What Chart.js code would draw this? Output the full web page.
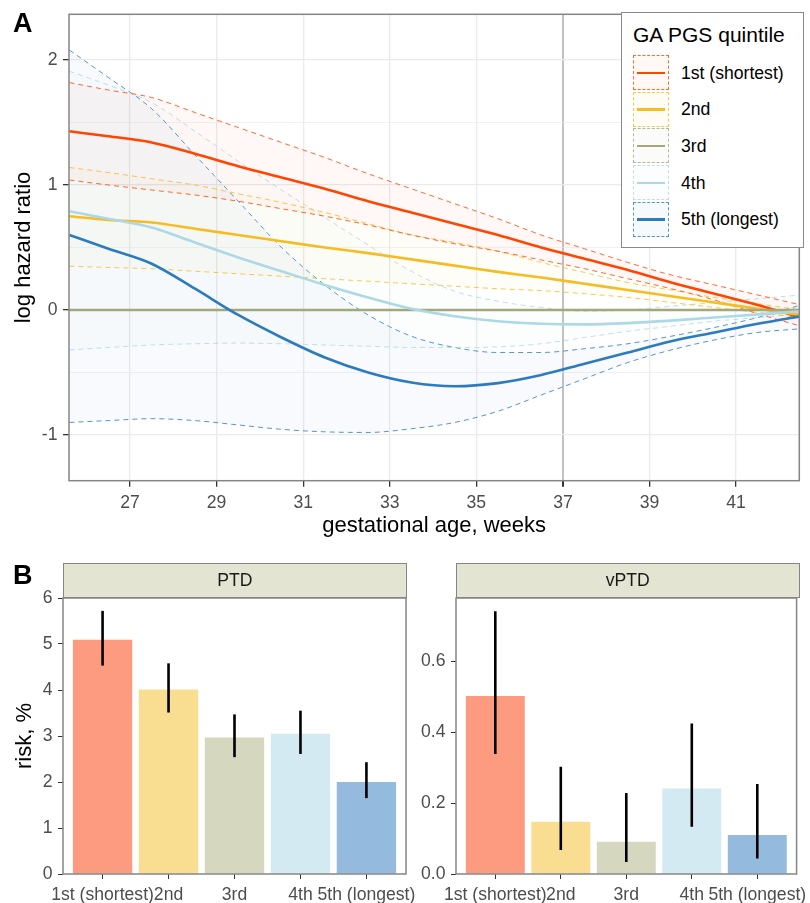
<!DOCTYPE html>
<html>
<head>
<meta charset="utf-8">
<script src="https://cdn.jsdelivr.net/npm/chart.js@4.4.1/dist/chart.umd.min.js"></script>
<style>
  html, body { margin: 0; padding: 0; background: #fff; overflow: hidden; }
  #page { position: relative; width: 810px; height: 903px; overflow: hidden; font-family: "Liberation Sans", Arial, sans-serif; }
  .box { position: absolute; }
  .tag { position: absolute; font-weight: bold; font-size: 27px; line-height: 27px; color: #000; }
  .strip { position: absolute; background: #E4E4D2; border: 1.5px solid #858585; box-sizing: border-box;
           text-align: center; font-size: 17.6px; line-height: 32px; color: #1a1a1a; }
  #legend { position: absolute; left: 621px; top: 12px; width: 183px; height: 236px; background: #fff;
            border: 1px solid #8a8a8a; box-sizing: border-box; }
  .ltitle { position: absolute; left: 633px; top: 22px; font-size: 21px; line-height: 26px; color: #000; }
  .lkey { position: absolute; left: 633px; width: 36px; height: 35px; box-sizing: border-box; border: 1px dashed; }
  .lkey i { position: absolute; left: 3px; right: 3px; top: 15.5px; height: 2.6px; }
  .llab { position: absolute; left: 681px; font-size: 17.6px; line-height: 22px; color: #000; }
</style>
</head>
<body>
<div id="page">
  <div class="box" style="left:0;top:0;width:810px;height:545px"><canvas id="hr" width="810" height="545"></canvas></div>
  <div class="box" style="left:0;top:580px;width:430px;height:323px"><canvas id="ptd" width="430" height="323"></canvas></div>
  <div class="box" style="left:410px;top:580px;width:405px;height:323px"><canvas id="vptd" width="405" height="323"></canvas></div>
  <div class="tag" style="left:13px;top:10px">A</div>
  <div class="tag" style="left:13px;top:562px">B</div>
  <div class="strip" style="left:63px;top:563px;width:343.5px;height:35px">PTD</div>
  <div class="strip" style="left:456px;top:563px;width:343.5px;height:35px">vPTD</div>
  <div id="legend"></div>
  <div class="ltitle">GA PGS quintile</div>
  <div id="lkeys"></div>
</div>
<script>
// panel A: log hazard ratio by gestational week
var weeks = [25.6, 26.5, 27.5, 28.5, 29.5, 30.5, 31.5, 32.5, 33.5, 34.5, 35.5, 36.5, 37.5, 38.5, 39.5, 40.5, 41.5, 42.5];
var quintiles = ['1st (shortest)', '2nd', '3rd', '4th', '5th (longest)'];
var lineColors = ['#FF4500', '#F5BD22', '#A3A77A', '#ADD8E6', '#2C7BBF'];
var barColors = ['#FC9B7F', '#F9DE92', '#D5D7BF', '#D4EAF3', '#94BBDD'];

var q1Fit = [1.43, 1.39, 1.34, 1.25, 1.15, 1.06, 0.97, 0.87, 0.78, 0.69, 0.60, 0.50, 0.41, 0.32, 0.22, 0.13, 0.04, -0.06];
var q1Hi  = [1.82, 1.76, 1.70, 1.58, 1.46, 1.34, 1.22, 1.09, 0.97, 0.85, 0.73, 0.60, 0.49, 0.38, 0.28, 0.20, 0.12, 0.04];
var q1Lo  = [1.04, 1.00, 0.96, 0.92, 0.87, 0.81, 0.75, 0.68, 0.60, 0.53, 0.47, 0.40, 0.33, 0.25, 0.17, 0.08, -0.03, -0.13];

var q2Fit = [0.75, 0.72, 0.70, 0.65, 0.60, 0.55, 0.50, 0.455, 0.405, 0.355, 0.305, 0.26, 0.21, 0.16, 0.11, 0.06, 0.01, -0.04];
var q2Hi  = [1.14, 1.10, 1.05, 1.00, 0.93, 0.86, 0.78, 0.69, 0.60, 0.54, 0.47, 0.38, 0.30, 0.22, 0.16, 0.10, 0.05, 0.00];
var q2Lo  = [0.35, 0.34, 0.33, 0.31, 0.29, 0.27, 0.25, 0.23, 0.21, 0.19, 0.17, 0.155, 0.13, 0.10, 0.06, 0.02, -0.02, -0.06];

var q3Fit = [0, 0, 0, 0, 0, 0, 0, 0, 0, 0, 0, 0, 0, 0, 0, 0, 0, 0];

var q4Fit = [0.79, 0.73, 0.66, 0.54, 0.42, 0.31, 0.20, 0.10, 0.01, -0.05, -0.09, -0.11, -0.115, -0.105, -0.085, -0.06, -0.035, -0.01];
var q4Hi  = [1.91, 1.80, 1.66, 1.43, 1.19, 0.96, 0.74, 0.52, 0.31, 0.15, 0.07, 0.02, -0.01, 0.00, 0.03, 0.06, 0.09, 0.12];
var q4Lo  = [-0.32, -0.30, -0.28, -0.27, -0.265, -0.27, -0.28, -0.29, -0.30, -0.30, -0.295, -0.27, -0.22, -0.17, -0.13, -0.09, -0.06, -0.03];

var q5Fit = [0.60, 0.49, 0.37, 0.17, -0.04, -0.22, -0.38, -0.50, -0.58, -0.61, -0.585, -0.52, -0.43, -0.34, -0.25, -0.18, -0.11, -0.05];
var q5Hi  = [2.08, 1.86, 1.61, 1.24, 0.87, 0.50, 0.20, -0.04, -0.21, -0.30, -0.34, -0.34, -0.31, -0.27, -0.21, -0.14, -0.06, 0.04];
var q5Lo  = [-0.90, -0.885, -0.87, -0.885, -0.92, -0.955, -0.975, -0.98, -0.95, -0.90, -0.81, -0.68, -0.55, -0.42, -0.32, -0.24, -0.18, -0.15];

var xTicks = [27, 29, 31, 33, 35, 37, 39, 41];
var yTicks = [-1, -0.5, 0, 0.5, 1, 1.5, 2];

// panel B: risk, % with 95% CI
var ptdRisk = [5.09, 4.01, 2.97, 3.05, 2.00];
var ptdLo   = [4.53, 3.51, 2.54, 2.61, 1.65];
var ptdHi   = [5.72, 4.58, 3.47, 3.55, 2.43];
var vptdRisk = [0.502, 0.147, 0.091, 0.241, 0.110];
var vptdLo   = [0.338, 0.068, 0.034, 0.133, 0.044];
var vptdHi   = [0.741, 0.302, 0.228, 0.424, 0.254];
var ptdTicks = [0, 1, 2, 3, 4, 5, 6];
var vptdTicks = [0, 0.2, 0.4, 0.6];

Chart.defaults.font.family = '"Liberation Sans", Arial, sans-serif';
Chart.defaults.animation = false;

var panelBorder = {
    id: 'panelBorder',
    afterDraw: function (chart) {
        var ctx = chart.ctx, a = chart.chartArea;
        ctx.save();
        ctx.strokeStyle = '#858585';
        ctx.lineWidth = 1.5;
        ctx.strokeRect(a.left, a.top, a.right - a.left, a.bottom - a.top);
        ctx.restore();
    }
};

function pts(arr) {
    return arr.map(function (y, i) { return { x: weeks[i], y: y }; });
}

function fade(hex, a) {
    var n = parseInt(hex.slice(1), 16);
    return 'rgba(' + (n >> 16) + ',' + ((n >> 8) & 255) + ',' + (n & 255) + ',' + a + ')';
}

var groups = [
    { fit: q1Fit, lo: q1Lo, hi: q1Hi },
    { fit: q2Fit, lo: q2Lo, hi: q2Hi },
    { fit: q3Fit },
    { fit: q4Fit, lo: q4Lo, hi: q4Hi },
    { fit: q5Fit, lo: q5Lo, hi: q5Hi }
];

var hrSets = [];
groups.forEach(function (g, k) {
    var c = lineColors[k];
    if (g.hi) {
        hrSets.push({ data: pts(g.hi), borderColor: fade(c, 0.8), borderWidth: 1, borderDash: [5, 4],
            fill: '+1', backgroundColor: fade(c, 0.035), pointRadius: 0, cubicInterpolationMode: 'monotone', order: 10 });
        hrSets.push({ data: pts(g.lo), borderColor: fade(c, 0.8), borderWidth: 1, borderDash: [5, 4],
            fill: false, pointRadius: 0, cubicInterpolationMode: 'monotone', order: 10 });
    }
    hrSets.push({ data: pts(g.fit), borderColor: c, borderWidth: 2.6, fill: false, pointRadius: 0,
        cubicInterpolationMode: 'monotone', order: 5 - k });
});

new Chart(document.getElementById('hr'), {
    type: 'line',
    data: { datasets: hrSets },
    plugins: [panelBorder],
    options: {
        responsive: false,
        layout: { padding: { top: 14.3, right: 10.7, left: 0, bottom: 0 } },
        plugins: { legend: { display: false }, tooltip: { enabled: false } },
        scales: {
            x: {
                type: 'linear', min: 25.59, max: 42.46,
                afterBuildTicks: function (s) { s.ticks = xTicks.map(function (v) { return { value: v }; }); },
                afterFit: function (s) { s.height = 64.3; },
                border: { display: false },
                grid: {
                    color: function (c) { return c.tick && c.tick.value === 37 ? '#c2c2c2' : '#ebebeb'; },
                    lineWidth: function (c) { return c.tick && c.tick.value === 37 ? 2 : 1.3; },
                    tickColor: '#333', tickLength: 6
                },
                ticks: { color: '#4d4d4d', font: { size: 17.6, lineHeight: 1 }, padding: 8, maxRotation: 0, autoSkip: false },
                title: { display: true, text: 'gestational age, weeks', color: '#000', font: { size: 22 }, padding: { top: 0, bottom: 6 } }
            },
            y: {
                min: -1.366, max: 2.366,
                afterBuildTicks: function (s) { s.ticks = yTicks.map(function (v) { return { value: v }; }); },
                afterFit: function (s) { s.width = 69; },
                border: { display: false },
                grid: {
                    color: '#ebebeb',
                    lineWidth: function (c) { return c.tick && Number.isInteger(c.tick.value) ? 1.3 : 0.7; },
                    tickColor: function (c) { return c.tick && Number.isInteger(c.tick.value) ? '#333' : 'rgba(0,0,0,0)'; },
                    tickLength: 6
                },
                ticks: {
                    color: '#4d4d4d', font: { size: 17.6, lineHeight: 1 }, padding: 5.5, autoSkip: false,
                    callback: function (v) { return Number.isInteger(v) ? String(v) : ''; }
                },
                title: { display: true, text: 'log hazard ratio', color: '#000', font: { size: 22 }, padding: { top: 11, bottom: 0 } }
            }
        }
    }
});

function riskChart(id, risk, lo, hi, yMax, ticks, digits, yTitle, leftW, rightPad) {
    return new Chart(document.getElementById(id), {
        type: 'bar',
        data: {
            datasets: [
                { data: risk.map(function (v, i) { return { x: i + 1, y: v }; }), backgroundColor: barColors,
                  grouped: false, categoryPercentage: 1, barPercentage: 0.9, order: 2 },
                { data: lo.map(function (v, i) { return { x: i + 1, y: [v, hi[i]] }; }), backgroundColor: '#000',
                  grouped: false, categoryPercentage: 1, barPercentage: 0.04, maxBarThickness: 2.6, order: 1 }
            ]
        },
        plugins: [panelBorder],
        options: {
            responsive: false,
            layout: { padding: { top: 18, right: rightPad, left: 0, bottom: 0 } },
            plugins: { legend: { display: false }, tooltip: { enabled: false } },
            scales: {
                x: {
                    type: 'linear', min: 0.4, max: 5.6, offset: false,
                    afterBuildTicks: function (s) { s.ticks = [1, 2, 3, 4, 5].map(function (v) { return { value: v }; }); },
                    afterFit: function (s) { s.height = 29; },
                    border: { display: false },
                    grid: { color: 'rgba(0,0,0,0)', tickColor: '#333', tickLength: 5, offset: false },
                    ticks: {
                        color: '#4d4d4d', font: { size: 17.6, lineHeight: 1 }, padding: 7, maxRotation: 0, minRotation: 0, autoSkip: false,
                        callback: function (v) { return quintiles[Math.round(v) - 1]; }
                    }
                },
                y: {
                    min: 0, max: yMax,
                    afterBuildTicks: function (s) { s.ticks = ticks.map(function (v) { return { value: v }; }); },
                    afterFit: function (s) { s.width = leftW; },
                    border: { display: false },
                    grid: { color: 'rgba(0,0,0,0)', tickColor: '#333', tickLength: 5 },
                    ticks: {
                        color: '#4d4d4d', font: { size: 17.6, lineHeight: 1 }, padding: 5.5, autoSkip: false,
                        callback: function (v) { return v.toFixed(digits); }
                    },
                    title: { display: yTitle !== '', text: yTitle, color: '#000', font: { size: 22 }, padding: { top: 12, bottom: 0 } }
                }
            }
        }
    });
}

riskChart('ptd', ptdRisk, ptdLo, ptdHi, 6, ptdTicks, 0, 'risk, %', 63, 24);
riskChart('vptd', vptdRisk, vptdLo, vptdHi, 0.778, vptdTicks, 1, '', 46, 15.7);

// legend keys
var keyTops = [55, 91.7, 128.4, 165.1, 201.8];
var holder = document.getElementById('lkeys');
quintiles.forEach(function (q, k) {
    var key = document.createElement('div');
    key.className = 'lkey';
    key.style.top = keyTops[k] + 'px';
    key.style.borderColor = fade(lineColors[k], 0.8);
    key.style.background = fade(lineColors[k], 0.04);
    var bar = document.createElement('i');
    bar.style.background = lineColors[k];
    key.appendChild(bar);
    holder.appendChild(key);
    var lab = document.createElement('div');
    lab.className = 'llab';
    lab.style.top = (keyTops[k] + 6.5) + 'px';
    lab.textContent = q;
    holder.appendChild(lab);
});
</script>
</body>
</html>
